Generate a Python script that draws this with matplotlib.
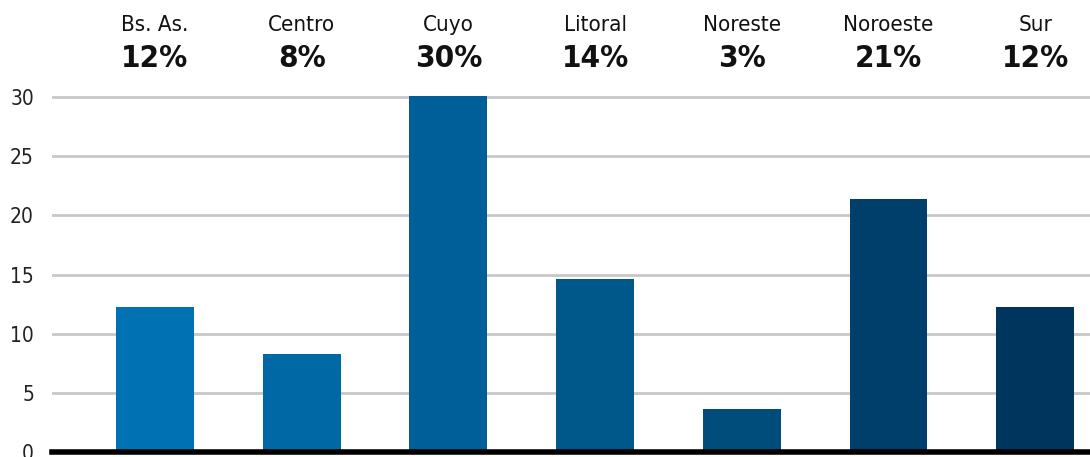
import matplotlib.pyplot as plt

regiones = ["Bs. As.", "Centro", "Cuyo", "Litoral", "Noreste", "Noroeste", "Sur"]
valores = [12.3, 8.3, 30.1, 14.6, 3.6, 21.4, 12.3]
etiquetas = ["12%", "8%", "30%", "14%", "3%", "21%", "12%"]
colores = ["#0072b4", "#0068a4", "#005f98", "#00578a", "#004c7b", "#003f6b", "#00365d"]

plt.rcParams['font.family'] = ['DejaVu Sans']
plt.rcParams['font.stretch'] = 'condensed'

fig = plt.figure(figsize=(10.9, 4.57), dpi=100)
ax = fig.add_axes([52/1090, 5/457, 1 - 52/1090, 449.5/457])

x = range(len(regiones))
ax.bar(x, valores, width=0.53, color=colores, zorder=3)

ax.set_ylim(0, 38)
ax.set_xlim(-0.702, 6.374)
ax.set_yticks([0, 5, 10, 15, 20, 25, 30])
ax.set_xticks([])
ax.yaxis.grid(True, color="#c8c8c8", linewidth=2, zorder=0)
ax.tick_params(axis="y", length=0, pad=13, labelsize=15, labelcolor="#222222")
for t in ax.get_yticklabels():
    t.set_fontstretch("condensed")

for s in ["top", "right", "left"]:
    ax.spines[s].set_visible(False)
ax.spines["bottom"].set_linewidth(4)
ax.spines["bottom"].set_color("black")
ax.spines["bottom"].set_zorder(4)

for i in x:
    ax.text(i, 36.1, regiones[i], ha="center", va="center", fontsize=16,
            fontstretch="condensed", color="#111111")
    ax.text(i, 33.3, etiquetas[i], ha="center", va="center", fontsize=22.5,
            fontweight="bold", fontstretch="condensed", color="#111111")

fig.savefig("out.png", dpi=100)
